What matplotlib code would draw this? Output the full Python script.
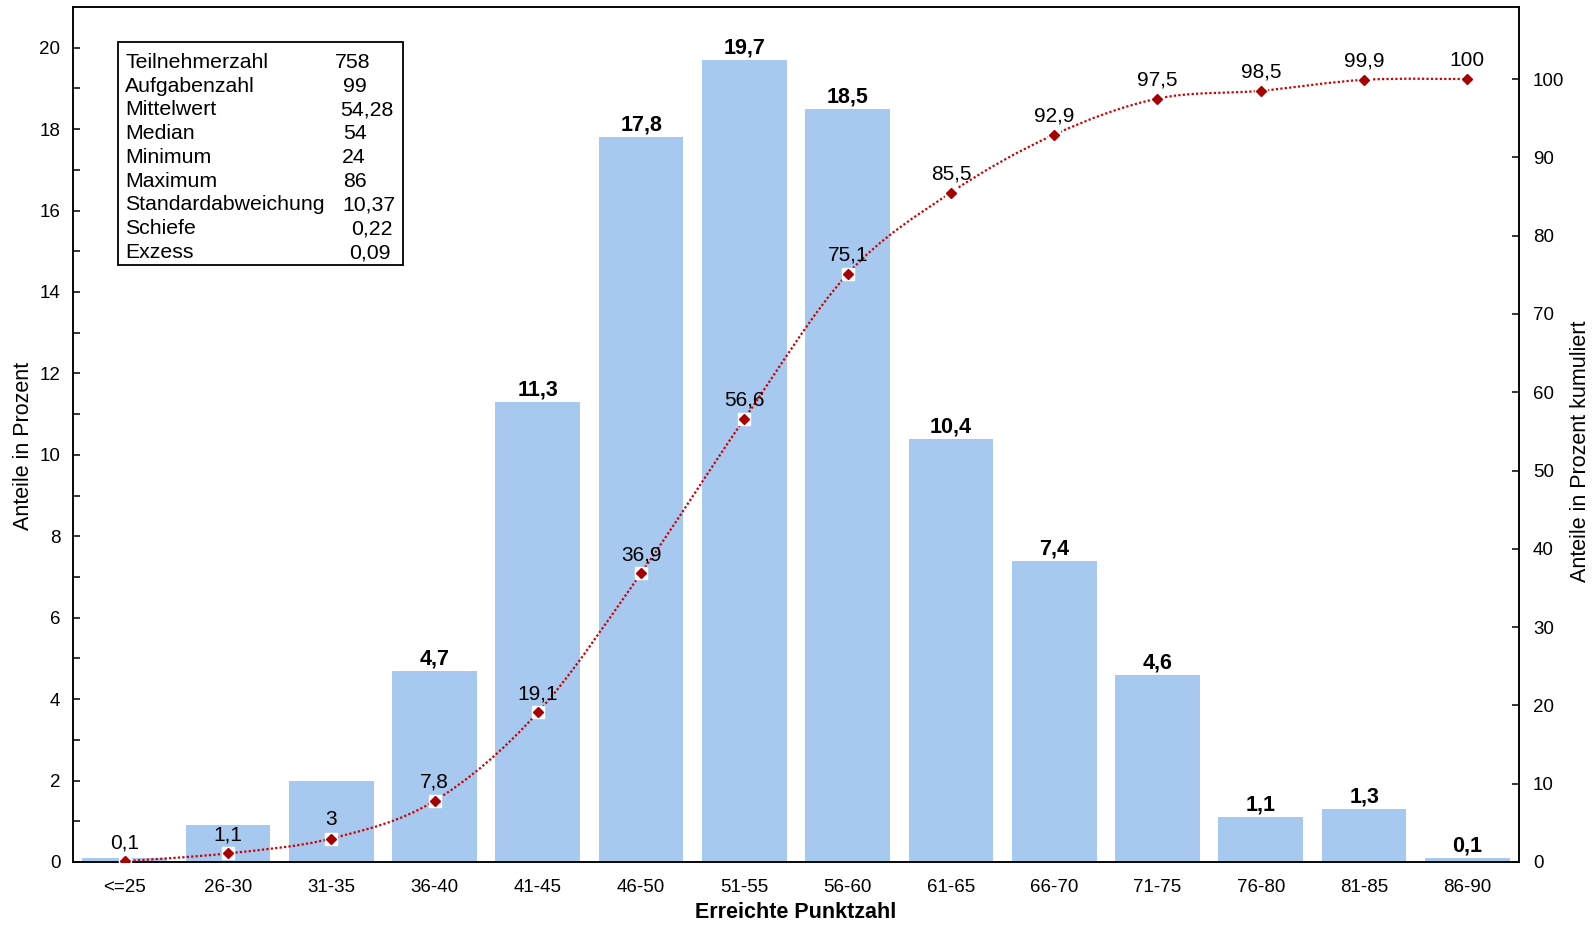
import numpy as np
import matplotlib
matplotlib.use('Agg')
import matplotlib.pyplot as plt
from matplotlib.path import Path
from matplotlib.patches import PathPatch, Rectangle

plt.rcParams['font.family'] = ['Liberation Sans', 'DejaVu Sans']

# dati
kategorien = ['<=25', '26-30', '31-35', '36-40', '41-45', '46-50', '51-55',
              '56-60', '61-65', '66-70', '71-75', '76-80', '81-85', '86-90']
anteile = [0.1, 0.9, 2.0, 4.7, 11.3, 17.8, 19.7, 18.5, 10.4, 7.4, 4.6, 1.1, 1.3, 0.1]
kumuliert = [0.1, 1.1, 3, 7.8, 19.1, 36.9, 56.6, 75.1, 85.5, 92.9, 97.5, 98.5, 99.9, 100]
# etichette delle barre (le prime tre non sono visibili nel grafico)
mostra_etichetta = [False, False, False] + [True] * 11

stat_nomi = ['Teilnehmerzahl', 'Aufgabenzahl', 'Mittelwert', 'Median', 'Minimum',
             'Maximum', 'Standardabweichung', 'Schiefe', 'Exzess']
stat_valori = ['758', '99', '54,28', '54', '24', '86', '10,37', '0,22', '0,09']


def virgola(v):
    return f'{v:g}'.replace('.', ',')


W, H = 1593, 925
fig = plt.figure(figsize=(W / 100, H / 100), dpi=100)
ax = fig.add_axes([73 / W, 1 - 862 / H, (1519 - 73) / W, (862 - 7) / H])
ax2 = ax.twinx()

x = np.arange(len(kategorien))
bars = ax.bar(x, anteile, width=0.82, color='#A7C9EF', zorder=1)
for xi, v, m in zip(x, anteile, mostra_etichetta):
    if m:
        ax.annotate(virgola(v), (xi, v), xytext=(0, 1), textcoords='offset points',
                    ha='center', va='bottom', fontsize=15.5, fontweight='bold')

ax.set_xlim(-0.5, len(kategorien) - 0.5)
ax.set_ylim(0, 21)
ax.set_yticks(np.arange(0, 21, 2))
ax.set_yticks(np.arange(1, 21, 2), minor=True)
ax.set_xticks(x)
ax.set_xticklabels(kategorien)
ax.tick_params(axis='x', length=0, pad=12, labelsize=13.5)
ax.tick_params(axis='y', which='both', direction='in', length=5, width=1.1,
               pad=9, labelsize=13.5)

# curva cumulata smussata (bezier tipo excel)
xs = np.array(x, dtype=float)
ys = np.array(kumuliert, dtype=float)
verts = [(xs[0], ys[0])]
codes = [Path.MOVETO]
n = len(xs)
for i in range(n - 1):
    p0 = np.array([xs[max(i - 1, 0)], ys[max(i - 1, 0)]])
    p1 = np.array([xs[i], ys[i]])
    p2 = np.array([xs[i + 1], ys[i + 1]])
    p3 = np.array([xs[min(i + 2, n - 1)], ys[min(i + 2, n - 1)]])
    c1 = p1 + (p2 - p0) / 6
    c2 = p2 - (p3 - p1) / 6
    verts += [tuple(c1), tuple(c2), tuple(p2)]
    codes += [Path.CURVE4] * 3
ax2.add_patch(PathPatch(Path(verts, codes), fill=False, edgecolor='#CC0000',
                        lw=1.6, linestyle=(0, (1, 1)), zorder=3))
ax2.plot(xs, ys, 's', color='white', ms=8.5, zorder=4)
ax2.plot(xs, ys, 'D', color='#A80000', ms=5.4, zorder=5)
for xi, v in zip(xs, ys):
    ax2.annotate(virgola(v), (xi, v), xytext=(0, 6.5), textcoords='offset points',
                 ha='center', va='bottom', fontsize=15, zorder=6)

ax2.set_ylim(0, 109.2)
ax2.set_yticks(np.arange(0, 101, 10))
ax2.tick_params(axis='y', direction='in', length=5, width=1.1, pad=10, labelsize=13.5)

ax.set_zorder(ax2.get_zorder() - 1)
ax.patch.set_visible(True)
ax2.patch.set_visible(False)

for a in (ax, ax2):
    for s in a.spines.values():
        s.set_linewidth(1.1)

fig.text(24 / W, 1 - 446 / H, 'Anteile in Prozent', rotation=90, ha='center',
         va='center', fontsize=15.5)
fig.text(1581 / W, 1 - 451 / H, 'Anteile in Prozent kumuliert', rotation=90,
         ha='center', va='center', fontsize=15.5)
fig.text((73 + 1519) / 2 / W, 1 - 912 / H, 'Erreichte Punktzahl', ha='center',
         va='center', fontsize=15.5, fontweight='bold')

# riquadro statistiche
fig.patches.append(Rectangle((118 / W, 1 - 265 / H), (403 - 118) / W, (265 - 42) / H,
                             transform=fig.transFigure, fill=False, edgecolor='black',
                             lw=1.3, zorder=10))
x_valori = [335, 343, 340, 343, 342, 343, 342, 351, 349]
for i, (nome, val) in enumerate(zip(stat_nomi, stat_valori)):
    yb = 1 - (67.7 + 23.8 * i) / H
    fig.text(125 / W, yb, nome, ha='left', va='baseline', fontsize=15.3, zorder=11)
    fig.text(x_valori[i] / W, yb, val, ha='left', va='baseline', fontsize=15.3, zorder=11)

fig.savefig('out.png', dpi=100)
